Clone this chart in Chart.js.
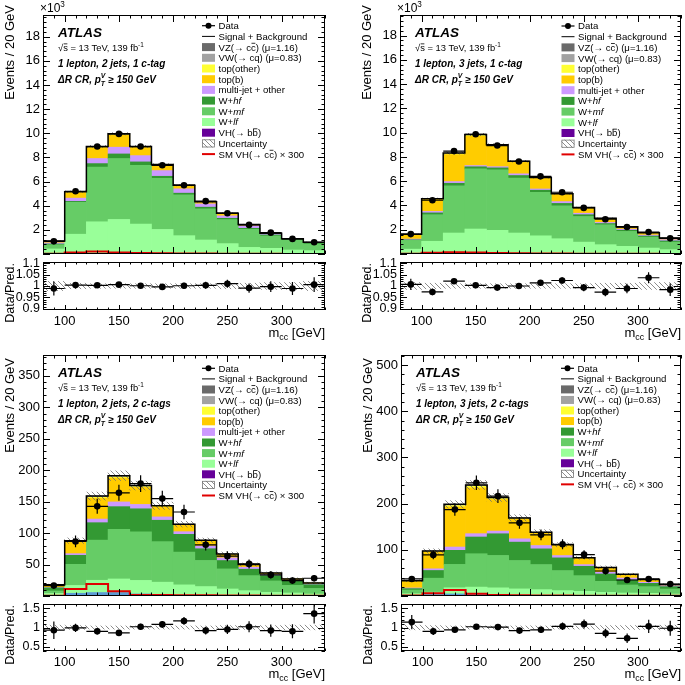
<!DOCTYPE html>
<html>
<head>
<meta charset="utf-8">
<title>ATLAS m_cc, 1-lepton Delta R control regions</title>
<script src="https://cdn.jsdelivr.net/npm/chart.js@4.4.1/dist/chart.umd.min.js"></script>
<style>
  body { margin: 0; background: #fff; }
  #page { position: relative; width: 685px; height: 685px; overflow: hidden; background: #fff; }
  #page canvas { position: absolute; }
</style>
</head>
<body>
<div id="page"></div>
<script>
// m_cc bins [GeV]
const binEdges = [80,100,120,140,160,180,200,220,240,260,280,300,320,340];

const regionLabels = ['1 lepton, 2 jets, 1 c-tag', '1 lepton, 3 jets, 1 c-tag',
                      '1 lepton, 2 jets, 2 c-tags', '1 lepton, 3 jets, 2 c-tags'];
const legendLabels = ['Data', 'Signal + Background', 'VZ(→ c~c~) (μ=1.16)', 'VW(→ cq) (μ=0.83)',
  'top(other)', 'top(b)', 'multi-jet + other', 'W+_hf_', 'W+_mf_', 'W+_lf_', 'VH(→ b~b~)',
  'Uncertainty', 'SM VH(→ c~c~) × 300'];

// 1 lepton, 2 jets, 1 c-tag  (events x 10^3)
const tlData     = [1.05,5.2,8.9,9.95,8.9,7.35,5.7,4.38,3.38,2.41,1.77,1.25,0.97];
const tlRatio    = [0.989,1.004,1.003,1.006,1.001,0.996,1.001,1.003,1.01,0.991,0.997,0.989,1.006];
const tlUnc      = [0.02,0.012,0.01,0.01,0.01,0.01,0.01,0.01,0.012,0.012,0.015,0.015,0.02];
const tlSignal   = [0.02,0.12,0.2,0.12,0.08,0.06,0.05,0.04,0.03,0.02,0.02,0.01,0.01];
const tlVZ       = [0.01,0.02,0.03,0.03,0.02,0.02,0.01,0.01,0.01,0.01,0,0,0];
const tlVW       = [0.01,0.02,0.03,0.04,0.03,0.02,0.02,0.02,0.01,0.01,0.01,0.01,0.01];
const tlTopOther = [0.01,0.03,0.04,0.04,0.03,0.02,0.02,0.01,0.01,0.01,0.01,0,0.01];
const tlTopB     = [0.12,0.46,0.9,1.0,0.68,0.44,0.25,0.13,0.19,0.08,0.04,0.02,0.02];
const tlMultijet = [0.09,0.27,0.42,0.56,0.52,0.47,0.36,0.27,0.2,0.2,0.08,0.02,0.04];
const tlWhf      = [0.06,0.08,0.28,0.38,0.28,0.17,0.14,0.14,0.11,0.08,0.08,0.06,0.06];
const tlWmf      = [0.35,2.64,4.54,5.05,4.87,4.24,3.38,2.58,1.99,1.5,1.03,0.83,0.55];
const tlWlf      = [0.42,1.63,2.66,2.85,2.47,2.02,1.52,1.16,0.86,0.55,0.47,0.33,0.28];
const tlVHbb     = [0,0.01,0.01,0.01,0.01,0.01,0,0,0,0,0,0,0];
const tlBlue     = [0,0,0,0,0,0,0,0,0,0,0,0,0];

// 1 lepton, 3 jets, 1 c-tag  (events x 10^3)
const trData     = [1.64,4.43,8.48,9.87,8.94,7.63,6.4,5.09,3.8,2.87,2.22,1.81,1.29];
const trRatio    = [1.007,0.974,1.021,1.003,0.993,1.0,1.014,1.024,0.993,0.973,0.989,1.036,0.984];
const trUnc      = [0.015,0.012,0.01,0.01,0.01,0.01,0.01,0.01,0.01,0.012,0.012,0.015,0.015];
const trSignal   = [0.03,0.1,0.15,0.12,0.08,0.06,0.05,0.04,0.03,0.02,0.02,0.02,0.01];
const trVZ       = [0.01,0.01,0.02,0.02,0.02,0.02,0.02,0.01,0.01,0.01,0,0,0];
const trVW       = [0.01,0.02,0.04,0.05,0.03,0.02,0.02,0.02,0.01,0.01,0.01,0.01,0.01];
const trTopOther = [0.02,0.04,0.07,0.08,0.06,0.04,0.03,0.02,0.02,0.01,0.01,0.01,0.01];
const trTopB     = [0.36,0.98,2.22,2.41,1.7,0.95,0.88,0.6,0.43,0.32,0.17,0.17,0.11];
const trMultijet = [0.06,0.12,0.14,0.1,0.1,0.14,0.1,0.15,0.12,0.09,0.09,0.08,0.1];
const trWhf      = [0.05,0.15,0.22,0.18,0.17,0.22,0.17,0.2,0.15,0.1,0.1,0.09,0.1];
const trWmf      = [0.72,2.19,3.88,4.95,4.98,4.52,3.59,2.71,2.11,1.64,1.23,0.9,0.62];
const trWlf      = [0.4,1.04,1.72,2.05,1.94,1.72,1.5,1.26,0.98,0.77,0.63,0.49,0.36];
const trVHbb     = [0,0.01,0.01,0.01,0.01,0.01,0,0,0,0,0,0,0];
const trBlue     = [0,0,0,0,0,0,0,0,0,0,0,0,0];

// 1 lepton, 2 jets, 2 c-tags
const blData     = [16.5,86.7,142.5,164,178.7,154.8,133.5,81.4,63.3,51,33.5,24.5,28.2];
const blRatio    = [0.93,0.99,0.9,0.86,1.02,1.08,1.17,0.92,0.95,1.02,0.92,0.9,1.36];
const blUnc      = [0.06,0.05,0.04,0.04,0.04,0.04,0.04,0.04,0.05,0.05,0.05,0.06,0.06];
const blSignal   = [0.5,11,19,7.4,1.6,1.5,1.2,1,0.8,0.6,0.5,0.4,0.3];
const blVZ       = [0.1,0.5,0.9,1.0,0.8,0.5,0.3,0.2,0.1,0.1,0.1,0,0];
const blVW       = [0.1,0.6,1.0,1.1,0.9,0.5,0.4,0.3,0.2,0.1,0.1,0.1,0.1];
const blTopOther = [0.2,0.9,1.4,1.6,1.2,0.8,0.5,0.4,0.3,0.2,0.1,0.1,0.1];
const blTopB     = [3.8,18.6,33.2,38.0,27.1,16.0,10.8,8.3,5.4,3.9,2.1,1.7,1.4];
const blMultijet = [0.5,2.6,5.8,7.5,6.9,5.3,4.2,4.3,4.2,3.1,1.6,1.3,1.1];
const blWhf      = [5,14.4,27.7,36.2,36.7,34,28.2,18.6,13.3,10.2,8.4,7,6];
const blWmf      = [4,33.5,63.8,78.7,77.1,64.4,52.1,41.5,31.9,23.9,18.1,12.2,8.8];
const blWlf      = [4,12.5,19.5,21.6,21.5,20.8,16.6,14.4,10.7,8.5,5.9,4.8,3.2];
const blVHbb     = [0,0.3,0.5,0.5,0.3,0.2,0.1,0.1,0,0,0,0,0];
const blBlue     = [0,4,5,5,3,1,1,0.5,0.5,0,0,0,0];

// 1 lepton, 3 jets, 2 c-tags
const brData     = [36.9,89,187.3,245.2,216.3,158.4,132.4,112.1,89.7,54.2,34.7,36.9,26];
const brRatio    = [1.14,0.9,0.94,1.02,1.01,0.92,0.94,1.03,1.09,0.85,0.72,1.03,0.98];
const brUnc      = [0.06,0.05,0.04,0.04,0.04,0.04,0.04,0.04,0.04,0.05,0.05,0.05,0.06];
const brSignal   = [1,6,13,5,2,1.5,1,1,0.5,0.5,0.5,0.3,0.3];
const brVZ       = [0.2,0.5,1.1,1.2,0.9,0.5,0.3,0.3,0.2,0.1,0.1,0.1,0];
const brVW       = [0.3,0.7,1.6,1.8,1.2,0.8,0.5,0.4,0.3,0.2,0.1,0.1,0.1];
const brTopOther = [0.5,1.2,2.7,3.0,2.1,1.3,0.9,0.6,0.4,0.3,0.3,0.2,0.1];
const brTopB     = [14.6,36.0,87.0,99.5,68.5,42.7,27.1,22.2,14.1,10.0,7.5,5.4,2.4];
const brMultijet = [1.4,3.6,7.2,7.2,5.8,7.2,7.2,5,3.6,3.7,4.3,2.2,2.1];
const brWhf      = [3,16.7,30.4,36.2,47,39.8,34,27.5,20.3,15.9,10.8,7.2,5.1];
const brWmf      = [8,30.3,50.6,72.3,70.1,61.5,54.3,43.4,34,23.8,17.4,14.5,10.9];
const brWlf      = [5,5,13.4,14.8,16.4,14.7,13.2,11.6,10.1,8,6.5,5.8,4.3];
const brVHbb     = [0,0.3,0.5,0.5,0.3,0.2,0.1,0.1,0,0,0,0,0];
const brBlue     = [0,3,4,4,1,0.5,0.5,0,0,0,0,0,0];

const FONT = '"Liberation Sans", Arial, Helvetica, sans-serif';
Chart.defaults.font.family = FONT;
Chart.defaults.color = '#000';

const centers = binEdges.slice(0, -1).map((e, i) => (e + binEdges[i + 1]) / 2);
const halfBin = (binEdges[1] - binEdges[0]) / 2;

// bottom -> top of the stack
const stackKeys = ['vhbb', 'blue', 'wlf', 'wmf', 'whf', 'mj', 'topb', 'topo', 'vw', 'vz'];
const fills = { vz: '#6a6a6a', vw: '#a2a2a2', topo: '#ffff33', topb: '#ffcc00', mj: '#cc99ff',
                whf: '#339933', wmf: '#66cc66', wlf: '#99ff99', vhbb: '#660099', blue: '#5b9bd5' };
const legendSyms = ['data', 'line', 'vz', 'vw', 'topo', 'topb', 'mj', 'whf', 'wmf', 'wlf', 'vhbb', 'hatch', 'red'];

function makeHatch() {
  const c = document.createElement('canvas');
  c.width = 5; c.height = 5;
  const g = c.getContext('2d');
  g.strokeStyle = '#707070'; g.lineWidth = 0.8;
  g.beginPath();
  g.moveTo(0, 0); g.lineTo(5, 5);
  g.moveTo(-1, 4); g.lineTo(1, 6);
  g.moveTo(4, -1); g.lineTo(6, 1);
  g.stroke();
  return g.createPattern(c, 'repeat');
}
const hatch = makeHatch();

// small markup: _it_  ~overline~  ^sup^  $sub$  {sub|sup}
function rich(ctx, x, y, str, size, bold, italic, draw = true) {
  const parts = str.split(/(_[^_]+_|~[^~]+~|\^[^^]+\^|\$[^$]+\$|\{[^}]+\})/).filter(Boolean);
  const f = (s, it) => (it ? 'italic ' : '') + (bold ? 'bold ' : '') + s + 'px ' + FONT;
  let cx = x;
  for (const p of parts) {
    const k = p[0], body = p.slice(1, -1);
    if (k === '{' && p.endsWith('}')) {
      const [lo, hi] = body.split('|');
      ctx.font = f(size * 0.68, italic);
      const w = Math.max(ctx.measureText(lo).width, ctx.measureText(hi).width);
      if (draw) { ctx.fillText(lo, cx, y + size * 0.32); ctx.fillText(hi, cx, y - size * 0.45); }
      cx += w;
      continue;
    }
    let txt = p, s = size, dy = 0, it = italic, over = false;
    if (p.length > 2 && '_~^$'.includes(k) && p.endsWith(k)) {
      txt = body;
      if (k === '_') it = true;
      if (k === '~') over = true;
      if (k === '^') { s = size * 0.68; dy = -size * 0.42; }
      if (k === '$') { s = size * 0.68; dy = size * 0.25; }
    }
    ctx.font = f(s, it);
    const w = ctx.measureText(txt).width;
    if (draw) {
      ctx.fillText(txt, cx, y + dy);
      if (over) ctx.fillRect(cx + w * 0.1, y - size * 0.8, w * 0.8, Math.max(0.8, size * 0.07));
    }
    cx += w;
  }
  return cx - x;
}

function tickVals(min, max, step) {
  const out = [];
  for (let v = Math.ceil(min / step - 1e-9) * step; v <= max + 1e-9; v += step) out.push(v);
  return out;
}

function drawFrame(ctx, a, x, y, t) {
  ctx.strokeStyle = '#000';
  ctx.lineWidth = 1;
  ctx.beginPath();
  for (const [st, len] of [[t.xMinor, t.xLen / 2], [t.xMajor, t.xLen]]) {
    for (const v of tickVals(x.min, x.max, st)) {
      const px = Math.round(x.getPixelForValue(v)) + 0.5;
      ctx.moveTo(px, a.bottom); ctx.lineTo(px, a.bottom - len);
      ctx.moveTo(px, a.top); ctx.lineTo(px, a.top + len);
    }
  }
  for (const [st, len] of [[t.yMinor, t.yLen / 2], [t.yMajor, t.yLen]]) {
    for (const v of tickVals(y.min, y.max, st)) {
      const py = Math.round(y.getPixelForValue(v)) + 0.5;
      ctx.moveTo(a.left, py); ctx.lineTo(a.left + len, py);
      ctx.moveTo(a.right, py); ctx.lineTo(a.right - len, py);
    }
  }
  ctx.stroke();
  ctx.strokeRect(a.left + 0.5, a.top + 0.5, a.width - 1, a.height - 1);
}

function drawErrors(chart) {
  const { ctx, chartArea: a, scales: { x, y } } = chart;
  ctx.save();
  ctx.beginPath(); ctx.rect(a.left, a.top, a.width, a.height); ctx.clip();
  ctx.strokeStyle = '#000'; ctx.lineWidth = 1.2;
  chart.data.datasets.forEach(ds => {
    if (!ds.errY) return;
    ds.data.forEach((pt, i) => {
      const px = x.getPixelForValue(pt.x), py = y.getPixelForValue(pt.y);
      ctx.beginPath();
      ctx.moveTo(x.getPixelForValue(pt.x - halfBin), py);
      ctx.lineTo(x.getPixelForValue(pt.x + halfBin), py);
      ctx.moveTo(px, y.getPixelForValue(pt.y - ds.errY[i]));
      ctx.lineTo(px, y.getPixelForValue(pt.y + ds.errY[i]));
      ctx.stroke();
    });
  });
  ctx.restore();
}

function drawLegend(ctx, a, p) {
  let row = 0;
  legendLabels.forEach((lab, i) => {
    const sym = legendSyms[i];
    if (p.legendSkip.includes(sym)) return;
    const cy = a.top + p.legY + row * p.legRow;
    const sx = a.left + p.legX;
    row++;
    ctx.save();
    if (sym === 'data') {
      ctx.strokeStyle = '#000'; ctx.lineWidth = 1.2;
      ctx.beginPath(); ctx.moveTo(sx, cy); ctx.lineTo(sx + 13, cy); ctx.stroke();
      ctx.beginPath(); ctx.arc(sx + 6.5, cy, 3, 0, 2 * Math.PI); ctx.fillStyle = '#000'; ctx.fill();
    } else if (sym === 'line') {
      ctx.strokeStyle = '#000'; ctx.lineWidth = 1;
      ctx.beginPath(); ctx.moveTo(sx, cy); ctx.lineTo(sx + 13, cy); ctx.stroke();
    } else if (sym === 'red') {
      ctx.strokeStyle = '#e00000'; ctx.lineWidth = 2;
      ctx.beginPath(); ctx.moveTo(sx, cy); ctx.lineTo(sx + 13, cy); ctx.stroke();
    } else if (sym === 'hatch') {
      ctx.fillStyle = hatch; ctx.fillRect(sx, cy - 4, 13, 8);
      ctx.strokeStyle = '#777'; ctx.lineWidth = 0.8; ctx.strokeRect(sx + 0.4, cy - 3.6, 12.2, 7.2);
    } else {
      ctx.fillStyle = fills[sym]; ctx.fillRect(sx, cy - 4, 13, 8);
    }
    ctx.restore();
    ctx.fillStyle = '#000';
    rich(ctx, sx + 16.5, cy + 3.4, lab, 9.6, false, false);
  });
}

function mainDecor(p) {
  return {
    id: 'mainDecor',
    afterDatasetsDraw(chart) {
      const { ctx, chartArea: a, scales: { x, y } } = chart;
      drawErrors(chart);
      ctx.save();
      drawFrame(ctx, a, x, y, { xMajor: 50, xMinor: 10, xLen: 7, yMajor: p.ystep, yMinor: p.yminor, yLen: 7 });
      ctx.fillStyle = '#000';
      ctx.textBaseline = 'alphabetic'; ctx.textAlign = 'left';
      const tx = a.left + 15;
      rich(ctx, tx, a.top + 21.5, 'ATLAS', 13.5, true, true);
      rich(ctx, tx, a.top + 36, '√~s~ = 13 TeV, 139 fb^-1^', 9.4, false, false);
      rich(ctx, tx, a.top + 51.5, p.region, 10, true, true);
      rich(ctx, tx, a.top + 67.5, 'ΔR CR, p{T|V} ≥ 150 GeV', 10, true, true);
      drawLegend(ctx, a, p);
      if (p.exp) rich(ctx, a.left - 3, a.top - 3, '×10^3^', 12, false, false);
      // y title, rotated, ending near the top of the frame
      const title = 'Events / 20 GeV';
      ctx.save();
      const w = rich(ctx, 0, 0, title, 13, false, false, false);
      ctx.translate(a.left - 29, a.top + p.yTitleDy);
      ctx.rotate(-Math.PI / 2);
      rich(ctx, -w, 0, title, 13, false, false);
      ctx.restore();
      ctx.restore();
    }
  };
}

function ratioDecor(p) {
  return {
    id: 'ratioDecor',
    afterDatasetsDraw(chart) {
      const { ctx, chartArea: a, scales: { x, y } } = chart;
      drawErrors(chart);
      ctx.save();
      drawFrame(ctx, a, x, y, { xMajor: 50, xMinor: 10, xLen: 5, yMajor: p.rstep, yMinor: p.rminor, yLen: 7 });
      ctx.fillStyle = '#000';
      ctx.textBaseline = 'alphabetic'; ctx.textAlign = 'left';
      const xt = 'm$cc$ [GeV]';
      const w = rich(ctx, 0, 0, xt, 13, false, false, false);
      rich(ctx, a.right - w, a.bottom + 27, xt, 13, false, false);
      const yt = 'Data/Pred.';
      const wy = rich(ctx, 0, 0, yt, 12.5, false, false, false);
      ctx.translate(a.left - 29, a.top + 1);
      ctx.rotate(-Math.PI / 2);
      rich(ctx, -wy, 0, yt, 12.5, false, false);
      ctx.restore();
    }
  };
}

function makeCanvas(box) {
  const c = document.createElement('canvas');
  c.width = box.w; c.height = box.h;
  c.style.left = box.x + 'px'; c.style.top = box.y + 'px';
  c.style.width = box.w + 'px'; c.style.height = box.h + 'px';
  document.getElementById('page').appendChild(c);
  return c;
}

const panels = [
  { box: { x: 0, y: 0, w: 340, h: 258 }, area: { l: 43, t: 15, r: 325, b: 254 },
    rbox: { x: 0, y: 258, w: 340, h: 87 }, rarea: { t: 262, b: 310 },
    unit: 1000, ymax: 19.8, ystep: 2, yminor: 0.4, rmin: 0.895, rmax: 1.105, rstep: 0.05, rminor: 0.01,
    region: regionLabels[0], exp: true, legX: 159, legY: 10.7, legRow: 10.7, legendSkip: [], yTitleDy: -10,
    data: tlData, ratio: tlRatio, unc: tlUnc, signal: tlSignal,
    comp: { vhbb: tlVHbb, blue: tlBlue, wlf: tlWlf, wmf: tlWmf, whf: tlWhf, mj: tlMultijet,
            topb: tlTopB, topo: tlTopOther, vw: tlVW, vz: tlVZ } },
  { box: { x: 340, y: 0, w: 345, h: 258 }, area: { l: 400, t: 15, r: 683, b: 254 },
    rbox: { x: 340, y: 258, w: 345, h: 87 }, rarea: { t: 262, b: 310 },
    unit: 1000, ymax: 19.7, ystep: 2, yminor: 0.4, rmin: 0.895, rmax: 1.105, rstep: 0.05, rminor: 0.01,
    region: regionLabels[1], exp: true, legX: 161.5, legY: 11, legRow: 10.7, legendSkip: [], yTitleDy: -10,
    data: trData, ratio: trRatio, unc: trUnc, signal: trSignal,
    comp: { vhbb: trVHbb, blue: trBlue, wlf: trWlf, wmf: trWmf, whf: trWhf, mj: trMultijet,
            topb: trTopB, topo: trTopOther, vw: trVW, vz: trVZ } },
  { box: { x: 0, y: 340, w: 340, h: 260 }, area: { l: 43, t: 355, r: 325, b: 596 },
    rbox: { x: 0, y: 600, w: 340, h: 85 }, rarea: { t: 603, b: 651 },
    unit: 1, ymax: 383, ystep: 50, yminor: 10, rmin: 0.39, rmax: 1.61, rstep: 0.5, rminor: 0.1,
    region: regionLabels[2], exp: false, legX: 159, legY: 13.3, legRow: 10.6, legendSkip: [], yTitleDy: 3,
    data: blData, ratio: blRatio, unc: blUnc, signal: blSignal,
    comp: { vhbb: blVHbb, blue: blBlue, wlf: blWlf, wmf: blWmf, whf: blWhf, mj: blMultijet,
            topb: blTopB, topo: blTopOther, vw: blVW, vz: blVZ } },
  { box: { x: 340, y: 340, w: 345, h: 260 }, area: { l: 401, t: 355, r: 683, b: 596 },
    rbox: { x: 340, y: 600, w: 345, h: 85 }, rarea: { t: 603, b: 651 },
    unit: 1, ymax: 522, ystep: 100, yminor: 20, rmin: 0.39, rmax: 1.61, rstep: 0.5, rminor: 0.1,
    region: regionLabels[3], exp: false, legX: 160, legY: 13.3, legRow: 10.55, legendSkip: ['mj'], yTitleDy: 3,
    data: brData, ratio: brRatio, unc: brUnc, signal: brSignal,
    comp: { vhbb: brVHbb, blue: brBlue, wlf: brWlf, wmf: brWmf, whf: brWhf, mj: brMultijet,
            topb: brTopB, topo: brTopOther, vw: brVW, vz: brVZ } }
];

const numLabel = v => String(+(+v).toFixed(3));

function stepPoints(vals) {
  return binEdges.map((e, i) => ({ x: e, y: vals[Math.min(i, vals.length - 1)] }));
}

// keep the plot frame exactly where asked: no extra room for edge labels
const fixY = w => s => { s.width = w; s.paddingTop = 0; s.paddingBottom = 0; };
const fixX = h => s => { s.height = h; s.paddingLeft = 0; s.paddingRight = 0; };

function buildMain(p) {
  const base = centers.map(() => 0);
  const bars = stackKeys.map(k => {
    const vals = p.comp[k];
    const ds = {
      type: 'bar', label: k, backgroundColor: fills[k], borderWidth: 0, grouped: false,
      barPercentage: 1, categoryPercentage: 1, order: 5,
      data: centers.map((c, i) => ({ x: c, y: [base[i], base[i] + vals[i]] }))
    };
    vals.forEach((v, i) => { base[i] += v; });
    return ds;
  });
  const total = base.slice();
  const datasets = [
    ...bars,
    { type: 'bar', label: 'Uncertainty', backgroundColor: hatch, borderWidth: 0, grouped: false,
      barPercentage: 1, categoryPercentage: 1, order: 4,
      data: centers.map((c, i) => ({ x: c, y: [total[i] * (1 - p.unc[i]), total[i] * (1 + p.unc[i])] })) },
    { type: 'line', label: 'Signal + Background', data: stepPoints(total), stepped: 'before',
      borderColor: '#000', borderWidth: 1.5, pointRadius: 0, fill: false, order: 3 },
    { type: 'line', label: 'SM VH(cc) x 300', data: stepPoints(p.signal), stepped: 'before',
      borderColor: '#e00000', borderWidth: 2, pointRadius: 0, fill: false, order: 2 },
    { type: 'line', label: 'Data', showLine: false, order: 1,
      data: centers.map((c, i) => ({ x: c, y: p.data[i] })),
      errY: p.data.map(v => Math.sqrt(v * p.unit) / p.unit),
      pointRadius: 3.3, pointBackgroundColor: '#000', pointBorderWidth: 0 }
  ];
  const box = p.box, a = p.area;
  new Chart(makeCanvas(box), {
    type: 'bar',
    data: { datasets },
    options: {
      responsive: false, animation: false, events: [],
      layout: { padding: { left: 0, top: a.t - box.y, right: box.x + box.w - a.r, bottom: box.y + box.h - a.b } },
      plugins: { legend: { display: false }, tooltip: { enabled: false } },
      scales: {
        x: { type: 'linear', min: binEdges[0], max: binEdges[binEdges.length - 1], offset: false,
             display: false, ticks: { stepSize: 50 } },
        y: { min: 0, max: p.ymax, grid: { display: false, drawTicks: false }, border: { display: false },
             ticks: { stepSize: p.ystep, includeBounds: false, autoSkip: false, padding: 3, font: { size: 13 },
                      callback: v => (v === 0 ? '' : numLabel(v)) },
             afterFit: fixY(a.l - box.x) }
      }
    },
    plugins: [mainDecor(p)]
  });
}

function buildRatio(p) {
  const datasets = [
    { type: 'bar', label: 'Uncertainty', backgroundColor: hatch, borderWidth: 0, grouped: false,
      barPercentage: 1, categoryPercentage: 1, order: 4,
      data: centers.map((c, i) => ({ x: c, y: [1 - p.unc[i], 1 + p.unc[i]] })) },
    { type: 'line', label: 'Data/Pred.', showLine: false, order: 1,
      data: centers.map((c, i) => ({ x: c, y: p.ratio[i] })),
      errY: p.ratio.map((r, i) => r / Math.sqrt(p.data[i] * p.unit)),
      pointRadius: 3.3, pointBackgroundColor: '#000', pointBorderWidth: 0 }
  ];
  const box = p.rbox, a = p.rarea, left = p.area.l, right = p.area.r;
  new Chart(makeCanvas(box), {
    type: 'bar',
    data: { datasets },
    options: {
      responsive: false, animation: false, events: [],
      layout: { padding: { left: 0, top: a.t - box.y, right: box.x + box.w - right, bottom: 0 } },
      plugins: { legend: { display: false }, tooltip: { enabled: false } },
      scales: {
        x: { type: 'linear', min: binEdges[0], max: binEdges[binEdges.length - 1], offset: false,
             grid: { display: false, drawTicks: false }, border: { display: false },
             ticks: { stepSize: 50, includeBounds: false, autoSkip: false, padding: 4, maxRotation: 0,
                      font: { size: 13 }, callback: v => numLabel(v) },
             afterFit: fixX(box.y + box.h - a.b) },
        y: { min: p.rmin, max: p.rmax, grid: { display: false, drawTicks: false }, border: { display: false },
             ticks: { stepSize: p.rstep, includeBounds: false, autoSkip: false, padding: 3,
                      font: { size: 12.5 }, callback: v => numLabel(v) },
             afterFit: fixY(left - box.x) }
      }
    },
    plugins: [ratioDecor(p)]
  });
}

panels.forEach(p => { buildMain(p); buildRatio(p); });
</script>
</body>
</html>
